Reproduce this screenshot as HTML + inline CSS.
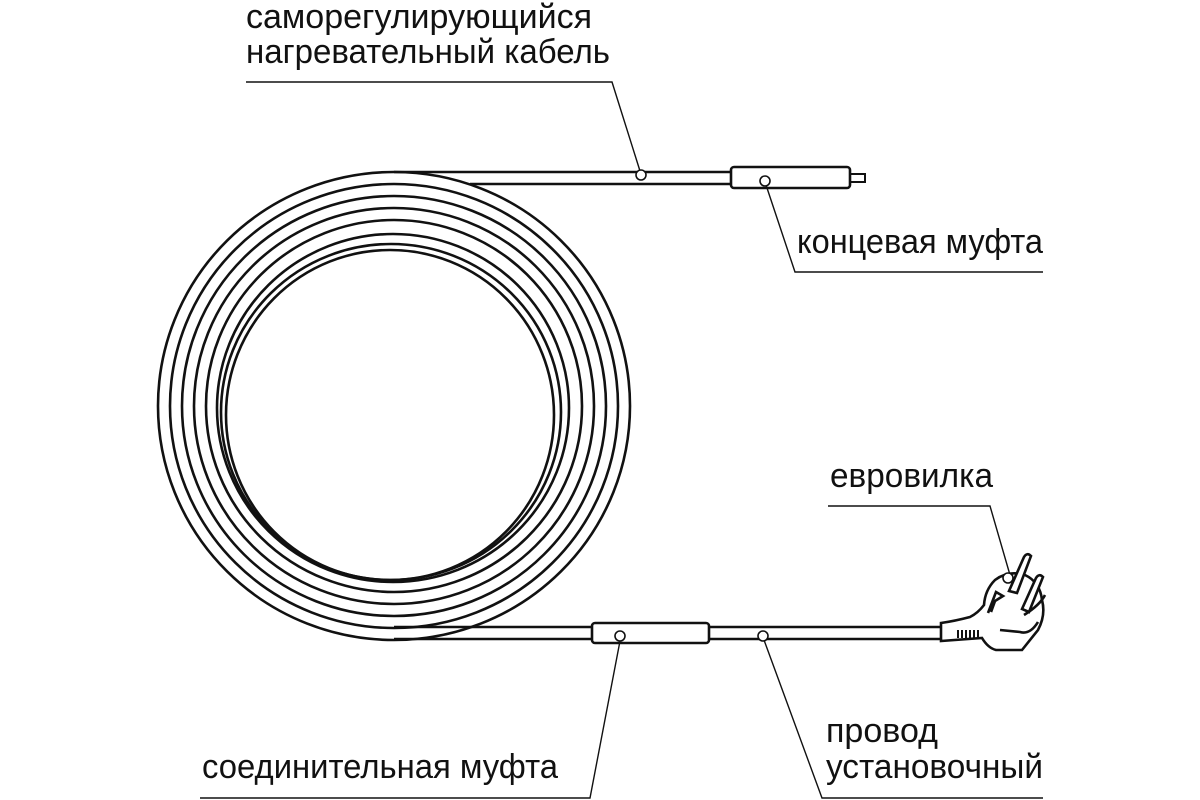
<!DOCTYPE html>
<html><head><meta charset="utf-8"><style>
html,body{margin:0;padding:0;background:#fff;width:1200px;height:800px;overflow:hidden}
svg{display:block}
text{font-family:"Liberation Sans",sans-serif;font-size:34px;fill:#111}
</style></head><body>
<svg width="1200" height="800" viewBox="0 0 1200 800">
<g fill="none" stroke="#111" stroke-width="2.6">
<ellipse cx="394" cy="406" rx="236" ry="234"/>
<ellipse cx="394" cy="406" rx="224" ry="222"/>
<ellipse cx="394" cy="406" rx="212" ry="210"/>
<ellipse cx="394" cy="406" rx="200" ry="198"/>
<ellipse cx="394" cy="406" rx="188" ry="186"/>
<ellipse cx="393" cy="408" rx="176" ry="174"/>
<ellipse cx="391" cy="412" rx="170" ry="168"/>
<ellipse cx="390" cy="415" rx="164" ry="165"/>
<path d="M394 172 L731 172"/>
<path d="M470 184 L731 184"/>
<rect x="731" y="167" width="119" height="21" rx="3"/>
<rect x="850" y="174" width="15" height="8" stroke-width="2"/>
<path d="M394 627 L592 627"/>
<path d="M394 639 L592 639"/>
<rect x="592" y="623" width="117" height="20" rx="3"/>
<path d="M709 627 L941 627 M709 639 L941 639"/>
<path d="M941 623 L941 641 L982 638 Q988 648 996 650 L1022 650 L1038 630 Q1046 615 1042 600 Q1040 582 1025 575 Q1008 570 995 580 Q985 590 984 605 Q978 613 970 617 Q955 621 941 623 Z" fill="#fff"/>
<path d="M1038 622 Q1030 635 1020 632 L1000 630"/>
<path d="M958 638 L958 630 M962 638 L962 630 M966 638 L966 630 M970 638 L970 630 M974 638 L974 630 M978 638 L978 630" stroke-width="2"/>
<path d="M988 613 L996 592 L1003 596 L995 601 L991 612"/>
<path d="M1024 615 Q1040 605 1045 595" />
<path d="M1009 591 L1024 557 Q1027 552 1031 556 L1017 593 Z" fill="#fff"/>
<path d="M1022 609 L1036 578 Q1039 573 1043 577 L1029 612 Z" fill="#fff"/>
<g stroke-width="1.4">
<path d="M246 82 L612 82 L640 171"/>
<path d="M766 185 L795 272 L1043 272"/>
<path d="M828 506 L990 506 L1010 575"/>
<path d="M620 641 L590 798 L200 798"/>
<path d="M764 640 L822 798 L1043 798"/>
</g>
<g fill="#fff" stroke-width="1.6">
<circle cx="641" cy="175" r="5"/>
<circle cx="765" cy="181" r="5"/>
<circle cx="1008" cy="578" r="5"/>
<circle cx="620" cy="636" r="5"/>
<circle cx="763" cy="636" r="5"/>
</g>
</g>
<text x="246" y="28" textLength="346" lengthAdjust="spacingAndGlyphs">саморегулирующийся</text>
<text x="246" y="63" textLength="364" lengthAdjust="spacingAndGlyphs">нагревательный кабель</text>
<text x="797" y="253" textLength="246" lengthAdjust="spacingAndGlyphs">концевая муфта</text>
<text x="830" y="487" textLength="163" lengthAdjust="spacingAndGlyphs">евровилка</text>
<text x="826" y="742" textLength="112" lengthAdjust="spacingAndGlyphs">провод</text>
<text x="826" y="778" textLength="217" lengthAdjust="spacingAndGlyphs">установочный</text>
<text x="202" y="778" textLength="356" lengthAdjust="spacingAndGlyphs">соединительная муфта</text>
</svg>
</body></html>
